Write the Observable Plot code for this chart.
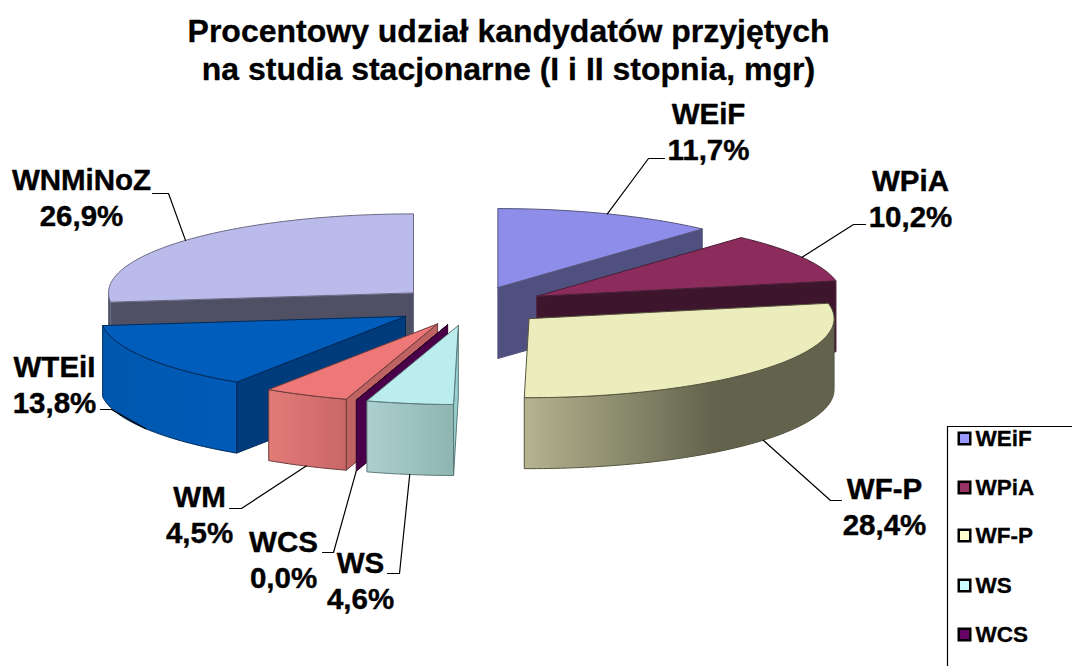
<!DOCTYPE html>
<html><head><meta charset="utf-8">
<script src="https://cdn.jsdelivr.net/npm/d3@7"></script>
<script src="https://cdn.jsdelivr.net/npm/@observablehq/plot@0.6"></script>
<style>html,body{margin:0;padding:0;background:#fff}svg{display:block}</style>
</head><body><div id="chart"></div>
<script>
// DATA
const names = ["WEiF","WPiA","WF-P","WS","WCS","WM","WTEiI","WNMiNoZ"];
const shares = [11.7,10.2,28.4,4.6,0.0,4.5,13.8,26.9];
const legendNames = ["WEiF","WPiA","WF-P","WS","WCS"];
const titleLines = ["Procentowy udział kandydatów przyjętych","na studia stacjonarne (I i II stopnia, mgr)"];
// STYLES
const topColors  = ["#8e8eea","#8b2c5c","#ecedbd","#bcedee","#4a0048","#ee7777","#005dbb","#bbbbeb"];
const faceColors = ["#4f507f","#3d152c","#62624d","#9acfd0","#4a0048","#bf6262","#003b7c","#505064"];
const wallStops  = [["#4f507f","#4f507f"],["#3d152c","#3d152c"],["#b5b48f","#62624d"],["#abd0cf","#8fb5b3"],["#4a0048","#4a0048"],["#e27b78","#c96767"],["#0058ad","#005ab8"],["#505064","#505064"]];
const legendSwatch = ["#9999ff","#993366","#ffffcc","#ccffff","#660066"];
const edgeColors = ["#55557a","#4a2038","#55553f","#5a7a7a","#2a0028","#6e3c3c","#002a58","#6a6a85"];
// LAYOUT (pie geometry in pixels)
const W = 1072, H = 666, cx = 470, cy = 305.5, rx = 305, ry = 79, depth = 71, explode = 0.25;
const labelPos = [[708,130],[910,197],[884,505],[360,579],[283,558],[199,513],[54,383],[81,196]];
const elbows = [[[648,158],[664,158]],[[853,224],[865,224]],[[830,500],[841,500]],[[399,573],[387,573]],[[333,552],[322,552]],[[241,508],[229,508]],[[111,409],[100,409]],[[168,193],[152,193]]];
const legendRows = [438,487,535,585,634];
const drawOrder = [0,1,2,7,6,5,4,3];

const total = d3.sum(shares);
let run = 0;
const slices = shares.map((v,i)=>{
  const a0 = run/total*2*Math.PI; run += v; const a1 = run/total*2*Math.PI;
  const mid = (a0+a1)/2;
  return {i,a0,a1,mid,ax:cx+explode*rx*Math.sin(mid),ay:cy-explode*ry*Math.cos(mid)};
});
const rim = (s,a,d=0)=>[s.ax+rx*Math.sin(a), s.ay-ry*Math.cos(a)+d];
const arc = (s,a,b,d=0)=>{
  const n = Math.max(2,Math.ceil(Math.abs(b-a)/0.02));
  return d3.range(n+1).map(k=>rim(s,a+(b-a)*k/n,d));
};
const poly = (pts,fill,stroke,sw=1)=>Plot.line([...pts,pts[0]],{x:d=>d[0],y:d=>d[1],curve:"linear",fill,stroke,strokeWidth:sw,strokeLinejoin:"round"});
const faceMark = (s,a)=>{
  const p=rim(s,a);
  return poly([[s.ax,s.ay],p,[p[0],p[1]+depth],[s.ax,s.ay+depth]],faceColors[s.i],edgeColors[s.i]);
};
const marks = [];
// gradient defs
marks.push(()=>{
  const defs = d3.create("svg:defs");
  wallStops.forEach((st,i)=>{
    const g = defs.append("linearGradient").attr("id","wall"+i);
    g.append("stop").attr("offset","0%").attr("stop-color",st[0]);
    g.append("stop").attr("offset",i===2?"62%":"100%").attr("stop-color",st[1]);
  });
  return defs.node();
});
for (const i of drawOrder){
  const s = slices[i];
  if (Math.sin(s.a0)<0) marks.push(faceMark(s,s.a0));
  if (Math.sin(s.a1)>0) marks.push(faceMark(s,s.a1));
  const lo = Math.max(s.a0,Math.PI/2), hi = Math.min(s.a1,1.5*Math.PI);
  if (hi>lo) marks.push(poly([...arc(s,lo,hi),...arc(s,hi,lo,depth)],`url(#wall${i})`,edgeColors[i]));
  marks.push(poly([[s.ax,s.ay],...arc(s,s.a0,s.a1)],topColors[i],edgeColors[i]));
}
// leader lines
slices.forEach((s,i)=>{
  const front = Math.cos(s.mid)<0;
  const start = rim(s,s.mid,front?depth:0);
  marks.push(Plot.line([start,...elbows[i]],{x:d=>d[0],y:d=>d[1],curve:"linear",stroke:"#000",strokeWidth:1.2}));
});
// labels
const fmt = v=>v.toFixed(1).replace(".",",")+"%";
const labels = names.map((n,i)=>({t:`${n}\n${fmt(shares[i])}`,x:labelPos[i][0],y:labelPos[i][1]}));
marks.push(Plot.text(labels,{x:"x",y:"y",text:"t",fontFamily:"Liberation Sans",fontWeight:"bold",fontSize:29.5,fill:"#000",stroke:"#000",strokeWidth:0.4,lineHeight:1.2,lineAnchor:"middle",textAnchor:"middle"}));
// title
marks.push(Plot.text(titleLines.map((t,i)=>({t,y:[31,69][i]})),{x:()=>508,y:"y",text:"t",fontFamily:"Liberation Sans",fontWeight:"bold",fontSize:32,fill:"#000",stroke:"#000",strokeWidth:0.3,textAnchor:"middle",lineAnchor:"middle"}));
// legend frame and entries
marks.push(Plot.line([[1072,426],[947,426],[947,666]],{x:d=>d[0],y:d=>d[1],stroke:"#000",strokeWidth:1.2,curve:"linear"}));
const leg = legendNames.map((n,i)=>({n,y:legendRows[i],c:legendSwatch[i]}));
marks.push(Plot.dot(leg,{x:()=>964,y:"y",symbol:"square",r:6.5,fill:"c",stroke:"#000",strokeWidth:2.5}));
marks.push(Plot.text(leg,{x:()=>975,y:"y",text:"n",textAnchor:"start",lineAnchor:"middle",fontFamily:"Liberation Sans",fontWeight:"bold",fontSize:22.5,fill:"#000",stroke:"#000",strokeWidth:0.3}));

document.getElementById("chart").append(Plot.plot({
  width:W,height:H,margin:0,
  x:{domain:[0,W],range:[0,W],axis:null},
  y:{domain:[0,H],range:[0,H],axis:null},
  color:{type:"identity"},
  style:{background:"#fff",overflow:"hidden"},
  marks
}));
</script></body></html>
